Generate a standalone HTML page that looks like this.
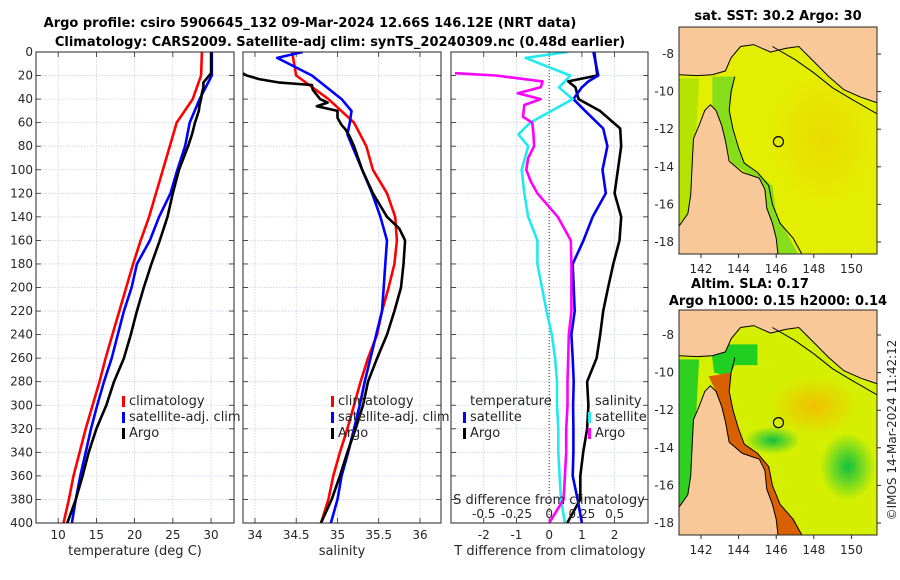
<!DOCTYPE html>
<html><head><meta charset="utf-8">
<style>
html,body{margin:0;padding:0;background:#fff;}
svg{display:block;font-family:"DejaVu Sans","Liberation Sans",sans-serif;}
</style></head>
<body>
<svg id="chart" width="900" height="580" viewBox="0 0 900 580" xmlns="http://www.w3.org/2000/svg">
<defs>
<clipPath id="c1"><rect x="36" y="52" width="198" height="471"/></clipPath>
<clipPath id="c2"><rect x="243" y="52" width="198" height="471"/></clipPath>
<clipPath id="c3"><rect x="451" y="52" width="197" height="471"/></clipPath>
<clipPath id="m1"><rect x="679" y="27" width="198" height="227"/></clipPath>
<clipPath id="m2"><rect x="679" y="310" width="198" height="225"/></clipPath>
<radialGradient id="g1" cx="0.5" cy="0.5" r="0.5"><stop offset="0" stop-color="#10c040"/><stop offset="1" stop-color="#10c040" stop-opacity="0"/></radialGradient>
<radialGradient id="g2" cx="0.5" cy="0.5" r="0.5"><stop offset="0" stop-color="#f0c000"/><stop offset="1" stop-color="#f0c000" stop-opacity="0"/></radialGradient>
</defs>
<g id="root"></g>
</svg>
<script>
// ---- data ----
const tDepths = [0,20,40,60,80,100,120,140,160,180,200,220,240,260,280,300,320,340,360,380,400];
const tClim = [28.8,28.7,27.6,25.5,24.6,23.7,22.8,21.9,20.8,19.8,18.9,18.0,17.1,16.2,15.4,14.5,13.6,12.8,12.0,11.4,10.7];
const tSat = [30.1,30.1,28.5,27.2,26.6,25.6,24.7,23.2,22.0,20.3,19.6,18.6,17.8,17.0,16.0,15.1,14.3,13.6,12.9,12.3,11.8];
const argoDepths = [0,18,22,26,30,35,40,45,50,60,70,80,100,120,140,160,180,200,220,240,260,280,300,320,340,360,380,400];
const tArgo = [30.0,30.0,29.5,29.0,29.0,28.8,28.7,28.5,28.4,27.9,27.5,27.0,25.8,25.0,24.3,23.3,22.2,21.2,20.3,19.5,18.6,17.3,16.3,15.0,14.0,13.2,12.3,11.2];
const sClim = [34.45,34.5,34.89,35.2,35.35,35.43,35.6,35.7,35.72,35.69,35.62,35.54,35.48,35.37,35.28,35.2,35.12,35.03,34.95,34.89,34.8];
const sSatDepths = [0,5,20,40,50,60,70,80,100,120,140,160,180,200,220,240,260,280,300,320,340,360,380,400];
const sSat = [34.58,34.27,34.69,35.05,35.17,35.15,35.12,35.18,35.3,35.42,35.52,35.6,35.58,35.56,35.54,35.47,35.4,35.33,35.27,35.2,35.13,35.05,35.0,34.92];
const sArgoDepths = [18,20,23,26,28,32,40,43,46,50,56,62,66,72,80,100,120,140,150,160,180,200,220,240,260,280,300,320,340,360,380,400];
const sArgo = [33.85,33.9,34.05,34.3,34.69,34.7,34.79,34.88,34.75,35.0,35.0,35.05,35.1,35.15,35.2,35.3,35.43,35.6,35.75,35.82,35.8,35.77,35.69,35.6,35.48,35.37,35.31,35.22,35.12,35.03,34.93,34.8];
const dDepths = [0,20,25,30,40,50,65,80,100,120,140,160,180,200,220,240,260,280,300,320,340,360,380,400];
const dTArgo = [1.38,1.47,0.58,0.8,0.9,1.55,2.17,2.2,2.1,2.0,2.2,2.15,1.96,1.8,1.65,1.56,1.45,1.16,1.2,1.16,1.04,0.95,0.95,0.55];
const dTSat = [1.35,1.5,1.2,1.0,0.74,1.1,1.65,1.78,1.63,1.73,1.33,1.05,0.72,0.75,0.78,0.68,0.72,0.75,0.73,0.74,0.74,0.72,0.87,1.0];
const dSSatDepths = [0,5,20,25,30,40,60,70,80,100,120,140,160,180,200,220,240,260,280,300,320,340,360,380,400];
const dSSat = [0.14,-0.18,0.16,0.12,0.075,0.18,-0.145,-0.235,-0.16,-0.21,-0.19,-0.16,-0.09,-0.09,-0.055,-0.02,0.02,0.045,0.06,0.06,0.07,0.07,0.08,0.09,0.12];
const dSArgoDepths = [18,20,25,30,35,40,45,55,60,70,80,90,100,110,120,140,160,180,200,220,240,260,280,300,320,340,360,380,400];
const dSArgo = [-0.72,-0.41,-0.05,-0.065,-0.24,-0.065,-0.19,-0.2,-0.13,-0.12,-0.115,-0.16,-0.175,-0.14,-0.09,0.065,0.165,0.17,0.17,0.17,0.15,0.145,0.14,0.14,0.13,0.13,0.12,0.11,0.0];
const depthTicks = [0,20,40,60,80,100,120,140,160,180,200,220,240,260,280,300,320,340,360,380,400];
const tTicks = [10,15,20,25,30];
const sTicks = [34,34.5,35,35.5,36];
const sTickLabels = ["34","34.5","35","35.5","36"];
const dTTicks = [-2,-1,0,1,2];
const dSTicks = [-0.5,-0.25,0,0.25,0.5];
const dSTickLabels = ["-0.5","-0.25","0","0.25","0.5"];
const lonTicks = [142,144,146,148,150];
const latTicks = [-8,-10,-12,-14,-16,-18];
const argoLon = 146.12, argoLat = -12.66;

// ---- scales ----
const NS="http://www.w3.org/2000/svg";
const root=document.getElementById('root');
const Y0=52, Y1=523;
const yD = d => Y0 + d/400*(Y1-Y0);
function lin(d0,d1,r0,r1){return v=>r0+(v-d0)/(d1-d0)*(r1-r0);}
const xT = lin(7.1,33.0,36,234);
const xS = lin(33.855,36.255,243,441);
const xDT = lin(-3.0,3.02,451,648);
const xDS = lin(-0.75,0.755,451,648);
function mk(tag,attrs,parent){const e=document.createElementNS(NS,tag);for(const k in attrs)e.setAttribute(k,attrs[k]);(parent||root).appendChild(e);return e;}
function txt(s,x,y,attrs,parent){const e=mk('text',Object.assign({x:x,y:y,'font-size':12,fill:'#262626'},attrs||{}),parent);e.textContent=s;return e;}

function panel(name,x0,x1,xticks,xs,tlabels,clip){
  const g=mk('g',{});
  
  
  depthTicks.forEach(d=>{mk('line',{x1:x0,x2:x1,y1:yD(d),y2:yD(d),stroke:'#c8cde0','stroke-width':0.8,'stroke-dasharray':'1.5,1.5'},g);
    mk('line',{x1:x0,x2:x0+5,y1:yD(d),y2:yD(d),stroke:'#262626','stroke-width':0.8},g);
    mk('line',{x1:x1-5,x2:x1,y1:yD(d),y2:yD(d),stroke:'#262626','stroke-width':0.8},g);});
  xticks.forEach((t,i)=>{const x=xs(t);mk('line',{x1:x,x2:x,y1:Y0,y2:Y1,stroke:'#c8cde0','stroke-width':0.8,'stroke-dasharray':'1.5,1.5'},g);
    mk('line',{x1:x,x2:x,y1:Y1-5,y2:Y1,stroke:'#262626','stroke-width':0.8},g);
    mk('line',{x1:x,x2:x,y1:Y0,y2:Y0+5,stroke:'#262626','stroke-width':0.8},g);
    const l=txt(tlabels[i],x,539,{'text-anchor':'middle'},g);
    
    });
  return g;
}
function series(name,depths,vals,xs,color,clip){
  const pts=vals.map((v,i)=>xs(v).toFixed(1)+','+yD(depths[i]).toFixed(1)).join(' ');
  const p=mk('polyline',{points:pts,fill:'none',stroke:color,'stroke-width':2.6,'stroke-linejoin':'round','clip-path':'url(#'+clip+')'});
  
  
}
function frame(x0,x1){mk('rect',{x:x0,y:Y0,width:x1-x0,height:Y1-Y0,fill:'none',stroke:'#262626','stroke-width':1});}

// titles
let t1=txt('Argo profile: csiro 5906645_132 09-Mar-2024 12.66S 146.12E (NRT data)',310,27,{'text-anchor':'middle','font-weight':'bold','font-size':13,fill:'#000'});


let t2=txt('Climatology: CARS2009. Satellite-adj clim: synTS_20240309.nc (0.48d earlier)',340,46,{'text-anchor':'middle','font-weight':'bold','font-size':13,fill:'#000'});



// y tick labels
depthTicks.forEach(d=>{const l=txt(String(d),33,yD(d)+4,{'text-anchor':'end'});
  
  });

// panel 1
panel('temperature-panel',36,234,tTicks,xT,tTicks.map(String));
series('temp-climatology-line',tDepths,tClim,xT,'#ff0000','c1');
series('temp-satellite-line',tDepths,tSat,xT,'#0000ff','c1');
series('temp-argo-line',argoDepths,tArgo,xT,'#000000','c1');
frame(36,234);
let a1=txt('temperature (deg C)',135,555,{'text-anchor':'middle','font-size':13});



// panel 2
panel('salinity-panel',243,441,sTicks,xS,sTickLabels);
series('sal-climatology-line',tDepths,sClim,xS,'#ff0000','c2');
series('sal-satellite-line',sSatDepths,sSat,xS,'#0000ff','c2');
series('sal-argo-line',sArgoDepths,sArgo,xS,'#000000','c2');
frame(243,441);
let a2=txt('salinity',342,555,{'text-anchor':'middle','font-size':13});



// panel 3
panel('difference-panel',451,648,dTTicks,xDT,dTTicks.map(String));
mk('line',{x1:xDT(0),x2:xDT(0),y1:Y0,y2:Y1,stroke:'#333','stroke-width':1,'stroke-dasharray':'1,2'});
series('tdiff-argo-line',dDepths,dTArgo,xDT,'#000000','c3');
series('tdiff-satellite-line',dDepths,dTSat,xDT,'#0000ee','c3');
series('sdiff-satellite-line',dSSatDepths,dSSat,xDS,'#22e8f0','c3');
series('sdiff-argo-line',dSArgoDepths,dSArgo,xDS,'#ff00ff','c3');
frame(451,648);
let a3=txt('T difference from climatology',550,555,{'text-anchor':'middle','font-size':13});


let a4=txt('S difference from climatology',549,504,{'text-anchor':'middle','font-size':13});


dSTicks.forEach((s,i)=>{const l=txt(dSTickLabels[i],xDS(s),518,{'text-anchor':'middle'});
  
  });

// legends
function legend(name,x,y,label,color){
  const g=mk('g',{});
  
  
  if(color) mk('rect',{x:x-7,y:y-9,width:3,height:11,fill:color},g);
  txt(label,x,y,{'font-size':13},g);
}
legend('legend-climatology',129,405,'climatology','#ff0000');
legend('legend-satellite-adj',129,421,'satellite-adj. clim','#0000ff');
legend('legend-argo',129,437,'Argo','#000');
legend('legend-climatology-sal',338,405,'climatology','#ff0000');
legend('legend-satellite-adj-sal',338,421,'satellite-adj. clim','#0000ff');
legend('legend-argo-sal',338,437,'Argo','#000');
legend('legend-temperature-header',470,405,'temperature',null);
legend('legend-t-satellite',470,421,'satellite','#0000ff');
legend('legend-t-argo',470,437,'Argo','#000');
legend('legend-salinity-header',595,405,'salinity',null);
legend('legend-s-satellite',595,421,'satellite','#22e8f0');
legend('legend-s-argo',595,437,'Argo','#ff00ff');

// ---- maps ----
const capeYork=[[140.8,-18.7],[140.8,-17.2],[141.3,-16.5],[141.45,-15.5],[141.5,-14.5],[141.55,-13.5],[141.6,-12.5],[141.9,-11.8],[142.2,-11.0],[142.5,-10.7],[142.8,-11.0],[143.1,-11.8],[143.3,-12.6],[143.5,-13.7],[144.2,-14.3],[145.1,-14.6],[145.4,-15.2],[145.5,-16.2],[145.8,-17.0],[146.0,-17.8],[146.1,-18.7]];
const png=[[140.8,-6.5],[151.4,-6.5],[151.4,-10.6],[150.5,-10.3],[149.6,-9.9],[148.8,-9.2],[148.0,-8.4],[147.2,-7.6],[146.5,-7.7],[145.7,-7.9],[144.8,-7.5],[144.1,-7.6],[143.6,-8.2],[143.3,-8.9],[142.6,-9.1],[141.8,-9.15],[140.8,-9.1]];
const shelf=[[143.8,-9.2],[143.6,-10.0],[143.5,-11.0],[143.7,-12.0],[144.0,-13.0],[144.3,-13.8],[145.0,-14.3],[145.6,-15.0],[145.8,-16.0],[146.2,-17.0],[146.9,-17.8],[147.4,-18.7]];
const pngLine=[[145.8,-7.6],[147.0,-8.3],[148.0,-9.0],[149.0,-9.8],[150.0,-10.4],[151.4,-11.2]];

function drawMap(name,y0,h,yref,clip,bottom){
  const X=lon=>701+(lon-142)*18.8, Y=lat=>yref+(-8-lat)*18.8;
  const g=mk('g',{'clip-path':'url(#'+clip+')'});
  
  
  const p=arr=>arr.map(q=>X(q[0]).toFixed(1)+','+Y(q[1]).toFixed(1)).join(' ');
  if(!bottom){
    mk('rect',{x:679,y:y0,width:198,height:h,fill:'#e4ee00'},g);
    mk('ellipse',{cx:X(148.5),cy:Y(-12.5),rx:55,ry:70,fill:'url(#g2)',opacity:0.4},g);
    mk('polygon',{points:p([[140.8,-9.3],[141.9,-9.3],[141.7,-13],[141.4,-17],[140.8,-17.3]]),fill:'#a8e000',opacity:0.8},g);
    mk('polygon',{points:p([[142.6,-9.2],[143.8,-9.2],[143.5,-11],[143.8,-12.5],[144.3,-13.8],[145.8,-15],[146.0,-16.5],[146.6,-17.6],[147.2,-18.7],[145.8,-18.7],[145.5,-16.2],[145.2,-14.8],[143.6,-13.8],[143.1,-11.8],[142.6,-10.8]]),fill:'#70d820',opacity:0.8},g);
  } else {
    mk('rect',{x:679,y:y0,width:198,height:h,fill:'#d4f000'},g);
    mk('ellipse',{cx:X(148),cy:Y(-11.8),rx:45,ry:30,fill:'url(#g2)'},g);
    mk('polygon',{points:p([[140.8,-9.3],[141.9,-9.3],[141.7,-13],[141.4,-17],[140.8,-17.3]]),fill:'#30d020'},g);
    mk('polygon',{points:p([[142.5,-8.5],[145,-8.5],[145,-9.6],[143.8,-9.6],[143.5,-10.2],[142.7,-10.0]]),fill:'#20d020'},g);
    mk('ellipse',{cx:X(145.8),cy:Y(-13.6),rx:28,ry:14,fill:'url(#g1)'},g);
    mk('ellipse',{cx:X(149.8),cy:Y(-15.0),rx:28,ry:34,fill:'url(#g1)'},g);
    mk('polygon',{points:p([[146.2,-6.5],[151.4,-6.5],[151.4,-8.5],[149,-7.5],[147,-7]]),fill:'#20b860'},g);
    mk('polygon',{points:p([[142.4,-10.2],[143.6,-10.0],[143.5,-11.0],[143.7,-12.0],[144.0,-13.0],[144.3,-13.8],[145.0,-14.3],[145.6,-15.0],[145.8,-16.0],[146.2,-17.0],[146.9,-17.8],[147.4,-18.7],[146.1,-18.7],[145.8,-17.0],[145.5,-16.2],[145.4,-15.2],[145.1,-14.6],[144.2,-14.3],[143.5,-13.7],[143.3,-12.6],[143.1,-11.8],[142.8,-11.0]]),fill:'#d86000'},g);
  }
  mk('polygon',{points:p(capeYork),fill:'#f8c898',stroke:'#000','stroke-width':1},g);
  mk('polygon',{points:p(png),fill:'#f8c898',stroke:'#000','stroke-width':1},g);
  mk('polyline',{points:p(shelf),fill:'none',stroke:'#000','stroke-width':1},g);
  mk('polyline',{points:p(pngLine),fill:'none',stroke:'#000','stroke-width':1},g);
  mk('circle',{cx:X(argoLon),cy:Y(argoLat),r:5,fill:'none',stroke:'#000','stroke-width':1.2},g);
  mk('rect',{x:679,y:y0,width:198,height:h,fill:'none',stroke:'#262626','stroke-width':1});
  lonTicks.forEach(l=>{const e=txt(String(l),X(l),y0+h+19,{'text-anchor':'middle'});
    
    
    mk('line',{x1:X(l),x2:X(l),y1:y0+h,y2:y0+h+4,stroke:'#262626'});});
  latTicks.forEach(l=>{const e=txt(String(l),674,Y(l)+4,{'text-anchor':'end'});
    
    
    mk('line',{x1:877,x2:881,y1:Y(l),y2:Y(l),stroke:'#262626'});});
}
drawMap('sst-map',27,227,54,'m1',false);
drawMap('sla-map',310,225,335,'m2',true);
let mt1=txt('sat. SST: 30.2 Argo: 30',778,20,{'text-anchor':'middle','font-weight':'bold','font-size':13,fill:'#000'});


let mt2=txt('Altim. SLA: 0.17',750,288,{'text-anchor':'middle','font-weight':'bold','font-size':13,fill:'#000'});


let mt3=txt('Argo h1000: 0.15 h2000: 0.14',778,305,{'text-anchor':'middle','font-weight':'bold','font-size':13,fill:'#000'});


let cr=txt('©IMOS 14-Mar-2024 11:42:12',0,0,{'text-anchor':'middle','font-size':12,transform:'translate(896,430) rotate(-90)'});


</script>
</body></html>
